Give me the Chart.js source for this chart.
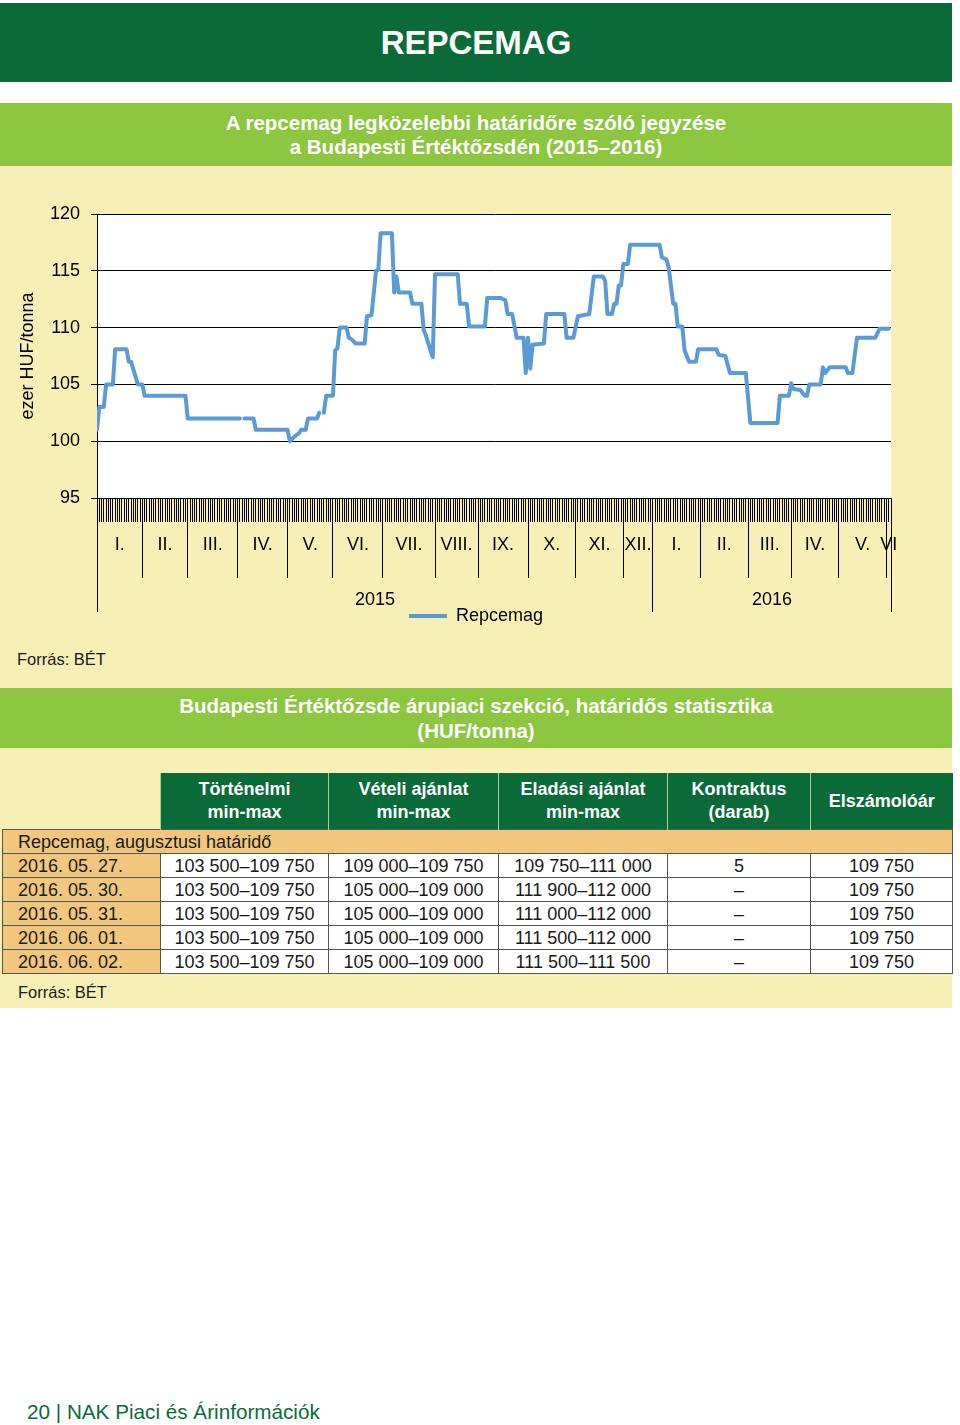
<!DOCTYPE html>
<html><head><meta charset="utf-8">
<script src="https://cdn.jsdelivr.net/npm/chart.js@4"></script>
<style>
body{margin:0;width:960px;height:1425px;position:relative;background:#fff;font-family:"Liberation Sans",Arial,sans-serif;color:#1a1a1a;overflow:hidden}
.abs{position:absolute}
#top{left:0;top:3px;width:952px;height:79px;background:#0a6b39;color:#fff;font-weight:bold;font-size:33px;display:flex;align-items:center;justify-content:center}
.band{left:0;width:952px;background:#8dc63f;color:#fff;font-weight:bold;font-size:20.5px;display:flex;align-items:center;justify-content:center;text-align:center}
#sub{top:103px;height:63px;line-height:24px}
#sec{top:688px;height:60px;line-height:25px}
.cream{left:0;width:952px;background:#f7efb5}
#chartbox{left:0;top:166px;width:952px;height:469px}
.src{font-size:16.5px;color:#1a1a1a}
#tbl{left:2px;top:773px;border-collapse:collapse;table-layout:fixed;width:950px;font-size:18px}
#tbl th{height:56px;padding:0;background:#0a6b39;color:#fff;font-weight:bold;line-height:23px;border-left:1px solid #a6d38c;text-align:center}
#tbl th.blank{background:transparent;border:none}
#tbl td{height:23px;padding:0;border:1px solid #555;background:#fff;text-align:center;line-height:22px;white-space:nowrap}
#tbl td.d,#tbl tr.g td{background:#f0c77c;text-align:left;padding-left:15px}
#foot{left:27px;top:1400px;font-size:20.7px;color:#0a6b39}
</style></head>
<body>
<div id="top" class="abs">REPCEMAG</div>
<div id="sub" class="abs band">A repcemag legközelebbi határidőre szóló jegyzése<br>a Budapesti Értéktőzsdén (2015–2016)</div>
<div class="abs cream" style="top:166px;height:522px"></div>
<div id="chartbox" class="abs"><canvas id="c" width="952" height="469"></canvas></div>
<div class="abs src" style="left:17px;top:650px">Forrás: BÉT</div>
<div id="sec" class="abs band">Budapesti Értéktőzsde árupiaci szekció, határidős statisztika<br>(HUF/tonna)</div>
<div class="abs cream" style="top:748px;height:260px"></div>
<table id="tbl" class="abs"></table>
<div class="abs src" style="left:18px;top:983px">Forrás: BÉT</div>
<div id="foot" class="abs">20 | NAK Piaci és Árinformációk</div>
<script>
// ---- chart data ----
const monthLabels = ['I.','II.','III.','IV.','V.','VI.','VII.','VIII.','IX.','X.','XI.','XII.','I.','II.','III.','IV.','V.','VI'];
const monthDays = [20,20,22,22,20,22,23,19,22,21,21,13,21,21,19,21,21,2];
const yearLabels = ['2015','2016'];
const yearMonthCount = [12,6];
const seriesName = 'Repcemag';
const dayIdx = [0,1,3,4,7,8,13,14,15,18,20,21,39,40,63,64,65,69,70,84,85,87,89,90,92,93,97,98,99,100,
  101,104,105,106,107,110,111,112,114,118,119,121,123,124,125,130,131,132,133,138,139,143,144,145,147,148,149,
  159,160,163,164,171,172,178,180,181,183,185,188,189,190,191,192,197,198,206,207,210,212,217,219,223,224,225,
  227,228,229,230,231,232,234,235,248,249,251,252,254,255,256,258,259,261,264,265,273,274,277,279,286,288,300,
  301,305,306,307,310,312,313,314,319,320,321,323,330,331,333,335,343,345,349];
const price = [101.0,103.0,103.0,105.0,105.0,108.1,108.1,107.0,107.0,105.0,105.0,104.0,104.0,102.0,102.0,null,102.0,102.0,101.0,101.0,100.0,100.4,100.7,101.0,101.0,102.0,102.0,102.5,null,102.5,
  104.0,104.0,108.0,108.2,110.0,110.0,109.1,109.0,108.6,108.6,111.0,111.1,115.0,115.1,118.3,118.3,113.1,114.5,113.1,113.1,112.1,112.1,109.8,109.3,108.0,107.4,114.7,
  114.7,112.1,112.1,110.1,110.1,112.6,112.6,112.4,111.2,111.2,109.1,109.1,106.0,109.1,106.4,108.5,108.6,111.2,111.2,109.1,109.1,111.0,111.2,114.5,114.5,114.1,111.2,
  111.2,112.1,112.1,113.7,113.7,115.6,115.6,117.3,117.3,116.2,116.0,115.3,112.1,112.1,110.1,110.1,108.0,107.0,107.0,108.1,108.1,107.6,107.5,106.0,106.0,101.6,101.6,
  104.0,104.0,105.1,104.6,104.5,104.0,104.0,105.0,105.0,106.5,106.0,106.5,106.5,106.0,106.0,109.1,109.1,109.9,109.9];
const yMin = 95, yMax = 120, yStep = 5;
const yTitle = 'ezer HUF/tonna';

// ---- table data ----
const colHeads = ['Történelmi<br>min-max','Vételi ajánlat<br>min-max','Eladási ajánlat<br>min-max','Kontraktus<br>(darab)','Elszámolóár'];
const groupLabel = 'Repcemag, augusztusi határidő';
const tDates = ['2016. 05. 27.','2016. 05. 30.','2016. 05. 31.','2016. 06. 01.','2016. 06. 02.'];
const tHist = ['103 500–109 750','103 500–109 750','103 500–109 750','103 500–109 750','103 500–109 750'];
const tBid = ['109 000–109 750','105 000–109 000','105 000–109 000','105 000–109 000','105 000–109 000'];
const tAsk = ['109 750–111 000','111 900–112 000','111 000–112 000','111 500–112 000','111 500–111 500'];
const tContr = ['5','–','–','–','–'];
const tSettle = ['109 750','109 750','109 750','109 750','109 750'];

// build table
(function(){
  const widths=[158,168,170,169,143,142];
  let h='<colgroup>'+widths.map(w=>'<col style="width:'+w+'px">').join('')+'</colgroup>';
  h+='<tr><th class="blank"></th>'+colHeads.map(c=>'<th>'+c+'</th>').join('')+'</tr>';
  h+='<tr class="g"><td colspan="6">'+groupLabel+'</td></tr>';
  tDates.forEach((d,i)=>{
    h+='<tr><td class="d">'+d+'</td><td>'+tHist[i]+'</td><td>'+tBid[i]+'</td><td>'+tAsk[i]+'</td><td>'+tContr[i]+'</td><td>'+tSettle[i]+'</td></tr>';
  });
  document.getElementById('tbl').innerHTML=h;
})();

// axis helpers
const totalDays = monthDays.reduce((a,b)=>a+b,0);
const mBounds=[0]; monthDays.forEach(d=>mBounds.push(mBounds[mBounds.length-1]+d));
const mMids = monthDays.map((d,i)=>mBounds[i]+d/2);
const yBounds=[0]; let acc=0; yearMonthCount.forEach(c=>{acc+=c; yBounds.push(mBounds[acc]);});
const yMids = yearLabels.map((_,i)=>(yBounds[i]+yBounds[i+1])/2);

Chart.defaults.font.family = '"Liberation Sans", Arial, sans-serif';
Chart.defaults.font.size = 18;
Chart.defaults.color = '#000';

const plotBg = {id:'plotBg', beforeDraw(c){const a=c.chartArea, x=c.ctx; x.save(); x.fillStyle='#fff'; x.fillRect(a.left,a.top,a.right-a.left,a.bottom-a.top); x.restore();}};

new Chart(document.getElementById('c'), {
  type:'line',
  data:{datasets:[{label:seriesName, data:dayIdx.map((d,i)=>({x:d,y:price[i]})), borderColor:'#5b9bd5', borderWidth:4,
    pointRadius:0, tension:0, spanGaps:false, borderCapStyle:'round', borderJoinStyle:'round', xAxisID:'x', yAxisID:'y'}]},
  options:{
    responsive:false, animation:false, events:[],
    layout:{padding:{left:0,right:0,top:48,bottom:0}},
    plugins:{
      tooltip:{enabled:false},
      legend:{position:'bottom', labels:{boxWidth:38, boxHeight:4, padding:2, color:'#000', font:{size:18},
        generateLabels:()=>[{text:seriesName, fillStyle:'#5b9bd5', strokeStyle:'#5b9bd5', lineWidth:0, hidden:false, datasetIndex:0}]}}
    },
    scales:{
      x:{type:'linear', position:'bottom', min:0, max:totalDays, weight:0,
        afterBuildTicks:s=>{s.ticks=Array.from({length:totalDays+1},(_,i)=>({value:i}));},
        ticks:{display:false},
        grid:{drawOnChartArea:false, tickLength:24, color:'#000', lineWidth:1},
        border:{display:true, color:'#000'},
        afterFit:s=>{s.height=24;}},
      xm:{type:'linear', position:'bottom', min:0, max:totalDays, weight:1,
        afterBuildTicks:s=>{s.ticks=mBounds.concat(mMids).sort((a,b)=>a-b).map(v=>({value:v}));},
        ticks:{autoSkip:false, maxRotation:0, minRotation:0, padding:-43.8, color:'#000', font:{size:18},
          callback:v=>{const i=mMids.indexOf(v); return i>=0?monthLabels[i]:'';}},
        grid:{drawOnChartArea:false, tickLength:56, color:c=>(c.tick && mBounds.includes(c.tick.value))?'#000':'rgba(0,0,0,0)'},
        border:{display:false},
        afterFit:s=>{s.height=56;}},
      xy:{type:'linear', position:'bottom', min:0, max:totalDays, weight:2,
        afterBuildTicks:s=>{s.ticks=yBounds.concat(yMids).sort((a,b)=>a-b).map(v=>({value:v}));},
        ticks:{autoSkip:false, maxRotation:0, minRotation:0, padding:-22.8, color:'#000', font:{size:18},
          callback:v=>{const i=yMids.indexOf(v); return i>=0?yearLabels[i]:'';}},
        grid:{drawOnChartArea:false, tickLength:34, color:c=>(c.tick && yBounds.includes(c.tick.value))?'#000':'rgba(0,0,0,0)'},
        border:{display:false},
        afterFit:s=>{s.height=27;}},
      y:{min:yMin, max:yMax,
        ticks:{stepSize:yStep, padding:11, color:'#000', font:{size:18}},
        grid:{color:'#000', tickLength:6, lineWidth:1},
        border:{color:'#000'},
        title:{display:true, text:yTitle, color:'#000', font:{size:18}, padding:{top:17,bottom:0}},
        afterFit:s=>{s.width=97;}},
      yr:{position:'right', min:yMin, max:yMax, display:true,
        ticks:{display:false}, grid:{display:false, drawTicks:false}, border:{display:false},
        afterFit:s=>{s.width=61;}}
    }
  },
  plugins:[plotBg]
});
</script>
</body></html>
